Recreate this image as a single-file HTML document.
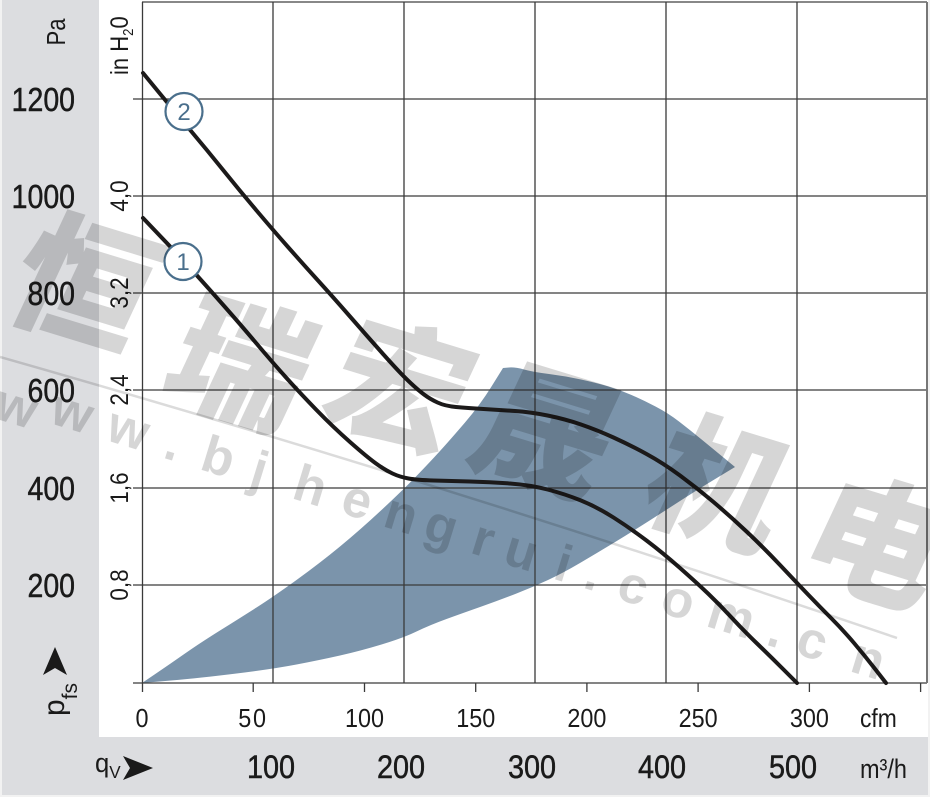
<!DOCTYPE html>
<html><head><meta charset="utf-8"><style>
html,body{margin:0;padding:0;background:#fff;}
svg{display:block;}
text{font-family:"Liberation Sans","Noto Sans CJK SC",sans-serif;}
</style></head><body>
<svg width="930" height="797" viewBox="0 0 930 797" xmlns="http://www.w3.org/2000/svg">
<rect x="0" y="0" width="930" height="797" fill="#f2f2f2"/>
<rect x="2" y="0" width="926" height="795" fill="#dcdde0"/>
<rect x="99" y="0" width="829" height="737" fill="#ffffff"/>

<!-- blue area -->
<path d="M142,683 L156,673.5 Q170,664 185,653.5 Q200,643 220,630.5 Q240,618 256.5,607.5 Q273,597 296.5,580 Q320,563 340,546.5 Q360,530 381.5,510 Q403,490 416.5,476 Q430,462 440,451 Q450,440 465,422.5 Q480,405 491.5,386.5 L503,368 L509,367.5 Q515,367 524,369.5 Q533,372 549,374 Q565,376 581,379.5 Q597,383 608.5,386.5 Q620,390 631.5,395 Q643,400 655.5,406.5 Q668,413 679,421.5 Q690,430 701,439 Q712,448 723.5,457.5 L735,467 L716,478.5 Q697,490 680,501 Q663,512 646.5,522.5 Q630,533 613.5,543 Q597,553 580,563 Q563,573 548,580 Q533,587 516.5,593.5 Q500,600 481.5,606.5 Q463,613 446.5,619 Q430,625 416.5,631.5 Q403,638 381.5,644.5 Q360,651 340,655.5 Q320,660 296.5,664.5 Q273,669 236.5,673.5 Q200,678 171,680.5 Z" fill="#7b94ab"/>

<!-- grid -->
<g stroke="#3a3a3a" stroke-width="1.3" fill="none">
<line x1="142" y1="2" x2="927" y2="2" stroke="#888" stroke-width="2"/>
<line x1="133" y1="99" x2="927" y2="99"/>
<line x1="133" y1="196" x2="927" y2="196"/>
<line x1="133" y1="293" x2="927" y2="293"/>
<line x1="133" y1="390" x2="927" y2="390"/>
<line x1="133" y1="488" x2="927" y2="488"/>
<line x1="133" y1="585" x2="927" y2="585"/>
<line x1="133" y1="683" x2="927" y2="683"/>
<line x1="142.5" y1="2" x2="142.5" y2="692"/>
<line x1="273" y1="2" x2="273" y2="683"/>
<line x1="404" y1="2" x2="404" y2="683"/>
<line x1="535" y1="2" x2="535" y2="683"/>
<line x1="666" y1="2" x2="666" y2="683"/>
<line x1="797" y1="2" x2="797" y2="683"/>
<line x1="927" y1="2" x2="927" y2="683" stroke="#777" stroke-width="2"/>
<line x1="253.2" y1="683" x2="253.2" y2="692"/>
<line x1="364.5" y1="683" x2="364.5" y2="692"/>
<line x1="475.7" y1="683" x2="475.7" y2="692"/>
<line x1="586.9" y1="683" x2="586.9" y2="692"/>
<line x1="698.1" y1="683" x2="698.1" y2="692"/>
<line x1="809.4" y1="683" x2="809.4" y2="692"/>
<line x1="920.6" y1="683" x2="920.6" y2="692"/>
</g>

<!-- curves -->
<g stroke="#1c1a1a" stroke-width="4" fill="none" stroke-linejoin="round" stroke-linecap="round">
<path d="M143,73 L159,92.5 Q175,112 191,131 Q207,150 223.5,170.5 Q240,191 256.5,210.5 Q273,230 288,247 Q303,264 318,280.5 Q333,297 350,316.5 Q367,336 383.5,354.5 Q400,373 409,381.5 Q418,390 424,394.5 Q430,399 437.5,402.5 Q445,406 456,407 Q467,408 483.5,409 Q500,410 515,411 Q530,412 547.5,415.5 Q565,419 581,424.5 Q597,430 613.5,437.5 Q630,445 646.5,454 Q663,463 680,475.5 Q697,488 713.5,502 Q730,516 746.5,531.5 Q763,547 780,565 Q797,583 808.5,595 Q820,607 831.5,618.5 Q843,630 854,643 Q865,656 875.5,669.5 L886,683"/>
<path d="M143,218 L153,228.5 Q163,239 173,249.5 Q183,260 196.5,275 Q210,290 225,307 Q240,324 256.5,343.5 Q273,363 286.5,378 Q300,393 316.5,410 Q333,427 350,442 Q367,457 376,463.5 Q385,470 392.5,473.5 Q400,477 408.5,478.5 Q417,480 433.5,480.5 Q450,481 470,481.5 Q490,482 510,483.5 Q530,485 547.5,489.5 Q565,494 581,500.5 Q597,507 613.5,517.5 Q630,528 646.5,540.5 Q663,553 680,568 Q697,583 708.5,594 Q720,605 731.5,617.5 Q743,630 756.5,643 Q770,656 783.5,669.5 L797,683"/>
</g>

<!-- circle labels -->
<g stroke="#4a6f8c" stroke-width="2.2" fill="#fff">
<circle cx="184" cy="111.5" r="18.5"/>
<circle cx="183" cy="261.5" r="18.5"/>
</g>
<text x="184" y="120" font-size="24" fill="#4a6f8c" text-anchor="middle">2</text>
<text x="183" y="270" font-size="24" fill="#4a6f8c" text-anchor="middle">1</text>

<!-- Pa labels -->
<g font-size="33.5" fill="#1a1a1a" stroke="#1a1a1a" stroke-width="0.5" text-anchor="end">
<text transform="translate(75,111) scale(0.85,1)">1200</text>
<text transform="translate(75,208) scale(0.85,1)">1000</text>
<text transform="translate(75,305) scale(0.85,1)">800</text>
<text transform="translate(75,402) scale(0.85,1)">600</text>
<text transform="translate(75,500) scale(0.85,1)">400</text>
<text transform="translate(75,597) scale(0.85,1)">200</text>
</g>
<text transform="translate(65,32) rotate(-90) scale(0.85,1)" font-size="26" fill="#1a1a1a" text-anchor="middle">Pa</text>

<!-- in H2O labels -->
<g font-size="25" fill="#1a1a1a" text-anchor="middle">
<text transform="translate(128,196) rotate(-90) scale(0.9,1)">4,0</text>
<text transform="translate(128,293) rotate(-90) scale(0.9,1)">3,2</text>
<text transform="translate(128,390) rotate(-90) scale(0.9,1)">2,4</text>
<text transform="translate(128,488) rotate(-90) scale(0.9,1)">1,6</text>
<text transform="translate(128,585) rotate(-90) scale(0.9,1)">0,8</text>
</g>
<text transform="translate(128,75) rotate(-90) scale(0.88,1)" font-size="25" fill="#1a1a1a">in H<tspan font-size="15" dy="5">2</tspan><tspan dy="-5">0</tspan></text>

<!-- p_fs and arrow -->
<polygon points="55,647 67,675 55,668 43,675" fill="#1a1a1a"/>
<text transform="translate(64,716) rotate(-90)" font-size="30" fill="#1a1a1a">p<tspan font-size="21" dy="13">fs</tspan></text>

<!-- cfm labels -->
<g font-size="26" fill="#1a1a1a" text-anchor="middle">
<text transform="translate(142,727) scale(0.9,1)">0</text>
<text transform="translate(253,727) scale(0.9,1)" letter-spacing="2">50</text>
<text transform="translate(364.5,727) scale(0.9,1)">100</text>
<text transform="translate(475.7,727) scale(0.9,1)">150</text>
<text transform="translate(586.9,727) scale(0.9,1)">200</text>
<text transform="translate(698.1,727) scale(0.9,1)">250</text>
<text transform="translate(809.4,727) scale(0.9,1)">300</text>
</g>
<text transform="translate(860,727) scale(0.88,1)" font-size="26" fill="#1a1a1a">cfm</text>

<!-- m3/h labels -->
<g font-size="32" fill="#1a1a1a" stroke="#1a1a1a" stroke-width="0.5" text-anchor="middle">
<text transform="translate(271,778) scale(0.9,1)">100</text>
<text transform="translate(401,778) scale(0.9,1)">200</text>
<text transform="translate(532,778) scale(0.9,1)">300</text>
<text transform="translate(662,778) scale(0.9,1)">400</text>
<text transform="translate(793,778) scale(0.9,1)">500</text>
</g>
<text transform="translate(860,778) scale(0.87,1)" font-size="27" fill="#1a1a1a">m³/h</text>
<text transform="translate(95,772) scale(0.95,1)" font-size="27" fill="#1a1a1a">q<tspan font-size="18" dy="6">V</tspan></text>
<polygon points="123,756 153,768 123,780 130,768" fill="#1a1a1a"/>

<!-- watermark -->
<g fill="#000" fill-opacity="0.16" font-family="'Noto Sans CJK SC','WenQuanYi Zen Hei',sans-serif" font-weight="900" font-size="135" text-anchor="middle">
<text transform="translate(85,282) rotate(17) skewX(-8)" y="51">恒</text>
<text transform="translate(242,362) rotate(17) skewX(-8)" y="51">瑞</text>
<text transform="translate(401,385) rotate(17) skewX(-8)" y="51">宏</text>
<text transform="translate(548,430) rotate(17) skewX(-8)" y="51">晟</text>
<text transform="translate(720,483) rotate(17) skewX(-8)" y="51">机</text>
<text transform="translate(878,540) rotate(17) skewX(-8)" y="51">电</text>
</g>
<path d="M0,357 Q450,485 897,638" stroke="#000" stroke-opacity="0.14" stroke-width="2.5" fill="none"/>
<g fill="#000" fill-opacity="0.16" font-weight="bold" font-size="52" text-anchor="middle">
<text transform="translate(15,412) rotate(17)" y="12">w</text>
<text transform="translate(71,417) rotate(17)" y="12">w</text>
<text transform="translate(127,434) rotate(17)" y="12">w</text>
<text transform="translate(172,448) rotate(17)" y="12">.</text>
<text transform="translate(217,462) rotate(17)" y="12">b</text>
<text transform="translate(258,475) rotate(17)" y="12">j</text>
<text transform="translate(309,491) rotate(17)" y="12">h</text>
<text transform="translate(356,505) rotate(17)" y="12">e</text>
<text transform="translate(400,519) rotate(17)" y="12">n</text>
<text transform="translate(440,531) rotate(17)" y="12">g</text>
<text transform="translate(482,544) rotate(17)" y="12">r</text>
<text transform="translate(520,556) rotate(17)" y="12">u</text>
<text transform="translate(562,569) rotate(17)" y="12">i</text>
<text transform="translate(592,578) rotate(17)" y="12">.</text>
<text transform="translate(632,591) rotate(17)" y="12">c</text>
<text transform="translate(677,605) rotate(17)" y="12">o</text>
<text transform="translate(730,621) rotate(17)" y="12">m</text>
<text transform="translate(775,635) rotate(17)" y="12">.</text>
<text transform="translate(811,646) rotate(17)" y="12">c</text>
<text transform="translate(867,664) rotate(17)" y="12">n</text>
</g>
</svg>
</body></html>
